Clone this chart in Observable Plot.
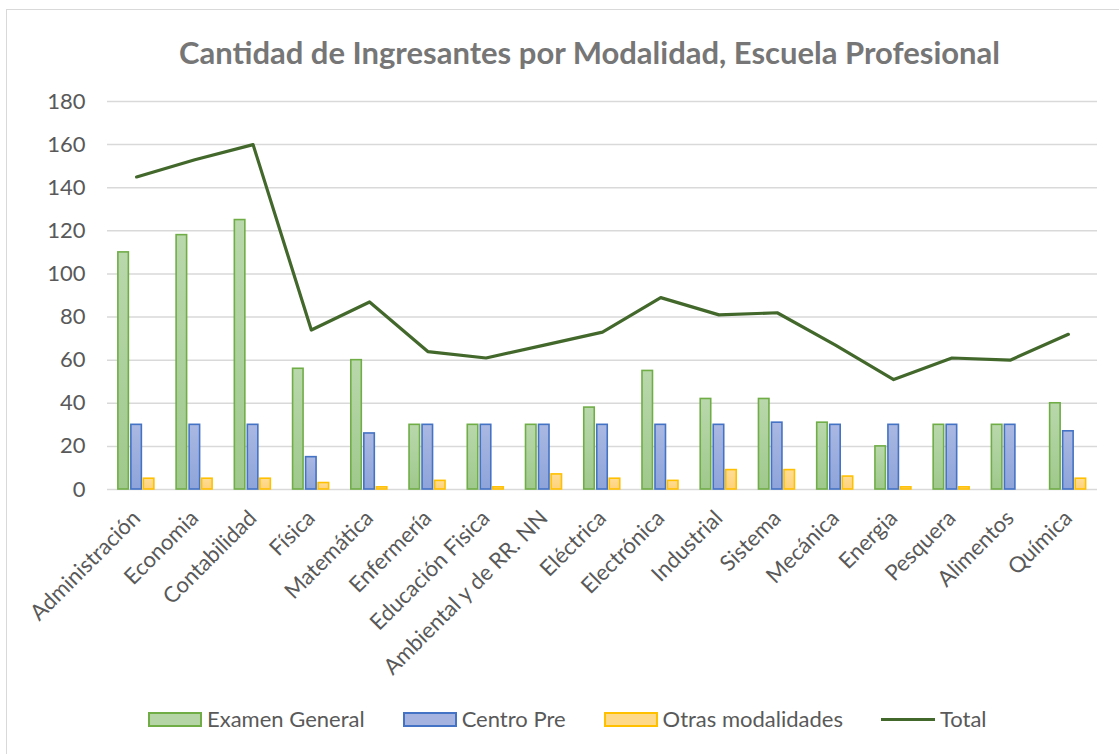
<!DOCTYPE html>
<html>
<head>
<meta charset="utf-8">
<script src="https://cdn.jsdelivr.net/npm/d3@7"></script>
<script src="https://cdn.jsdelivr.net/npm/@observablehq/plot@0.6"></script>
<style>
  html, body { margin: 0; padding: 0; background: #fff; }
  #wrap { position: relative; width: 1119px; height: 754px; overflow: hidden; font-family: Lato, "Open Sans", sans-serif; }
  #frame { position: absolute; left: 6px; top: 9px; width: 1130px; height: 760px; border: 1px solid #d9d9d9; box-sizing: border-box; }
  #title { position: absolute; left: 30px; width: 1119px; top: 34px; text-align: center; font-size: 31px; font-weight: bold; color: #767676; line-height: 1.2; white-space: nowrap; }
  #chart { position: absolute; left: 0; top: 0; }
  #legend { position: absolute; left: 148px; top: 706px; display: flex; align-items: center; font-size: 22px; color: #595959; line-height: 1.2; white-space: nowrap; }
  .item { display: flex; align-items: center; margin-right: 38px; }
  .sw { width: 54px; height: 15px; margin-right: 5px; box-sizing: border-box; border-width: 2px; border-style: solid; }
  .ln { width: 54px; height: 3px; margin-right: 5px; background: #43682b; }
</style>
</head>
<body>
<div id="wrap">
  <div id="frame"></div>
  <div id="chart"></div>
  <div id="title">Cantidad de Ingresantes por Modalidad, Escuela Profesional</div>
  <div id="legend"></div>
</div>
<script>
const categories = ["Administración","Economia","Contabilidad","Física","Matemática","Enfermería","Educación Fisica","Ambiental y de RR. NN","Eléctrica","Electrónica","Industrial","Sistema","Mecánica","Energia","Pesquera","Alimentos","Química"];
const examenGeneral = [110,118,125,56,60,30,30,30,38,55,42,42,31,20,30,30,40];
const centroPre     = [30,30,30,15,26,30,30,30,30,30,30,31,30,30,30,30,27];
const otras         = [5,5,5,3,1,4,1,7,5,4,9,9,6,1,1,0,5];
const total         = [145,153,160,74,87,64,61,67,73,89,81,82,67,51,61,60,72];
const yTicks = [0,20,40,60,80,100,120,140,160,180];
const seriesNames = ["Examen General","Centro Pre","Otras modalidades","Total"];

const rows = (vals) => categories.map((c, i) => ({cat: c, v: vals[i]}));
const eg = rows(examenGeneral), cp = rows(centroPre), ot = rows(otras), tt = rows(total);

const mL = 107, mR = 22;
const barW = 10.5;
const step = (1119 - mL - mR) / categories.length;
const inset = (step - barW) / 2;

const svg = Plot.plot({
  width: 1119,
  height: 700,
  marginTop: 101,
  marginBottom: 211,
  marginLeft: mL,
  marginRight: mR,
  style: {fontFamily: "Lato, 'Open Sans', sans-serif", fontSize: "22px", color: "#595959", background: "transparent"},
  x: {domain: categories, padding: 0, round: false, label: null, tickSize: 0, tickRotate: -45, tickPadding: 25},
  y: {domain: [0, 180], ticks: yTicks, label: null, tickSize: 0, tickPadding: 22},
  marks: [
    Plot.gridY(yTicks, {stroke: "#d9d9d9", strokeOpacity: 1, strokeWidth: 1.5}),
    Plot.barY(eg, {x: "cat", y: "v", dx: -13, insetLeft: inset, insetRight: inset, fill: "url(#gGreen)", stroke: "#70ad47", strokeWidth: 1.6}),
    Plot.barY(cp, {x: "cat", y: "v", dx: 0, insetLeft: inset, insetRight: inset, fill: "url(#gBlue)", stroke: "#4472c4", strokeWidth: 1.6}),
    Plot.barY(ot, {x: "cat", y: "v", dx: 12.5, insetLeft: inset, insetRight: inset, fill: "url(#gYellow)", stroke: "#ffc000", strokeWidth: 1.6}),
    Plot.lineY(tt, {x: "cat", y: "v", stroke: "#43682b", strokeWidth: 3.2, curve: "linear"})
  ]
});

const ns = "http://www.w3.org/2000/svg";
const defs = document.createElementNS(ns, "defs");
const grads = [["gGreen", "#b9d8ac", "#9fc98c"], ["gBlue", "#aab8e2", "#8ea4da"], ["gYellow", "#ffdc95", "#ffd27a"]];
for (const [id, c1, c2] of grads) {
  const g = document.createElementNS(ns, "linearGradient");
  g.setAttribute("id", id);
  g.setAttribute("x1", "0"); g.setAttribute("y1", "0"); g.setAttribute("x2", "0"); g.setAttribute("y2", "1");
  const s1 = document.createElementNS(ns, "stop"); s1.setAttribute("offset", "0"); s1.setAttribute("stop-color", c1);
  const s2 = document.createElementNS(ns, "stop"); s2.setAttribute("offset", "1"); s2.setAttribute("stop-color", c2);
  g.appendChild(s1); g.appendChild(s2); defs.appendChild(g);
}
svg.insertBefore(defs, svg.firstChild);
document.getElementById("chart").appendChild(svg);

const legend = document.getElementById("legend");
const swatch = [["#b5d5a7", "#70ad47"], ["#a4b3e0", "#4472c4"], ["#ffd98a", "#ffc000"]];
seriesNames.forEach((name, i) => {
  const item = document.createElement("div");
  item.className = "item";
  const s = document.createElement("div");
  if (i < 3) { s.className = "sw"; s.style.background = swatch[i][0]; s.style.borderColor = swatch[i][1]; }
  else { s.className = "ln"; }
  const t = document.createElement("span");
  t.textContent = name;
  item.appendChild(s); item.appendChild(t);
  legend.appendChild(item);
});
</script>
</body>
</html>
